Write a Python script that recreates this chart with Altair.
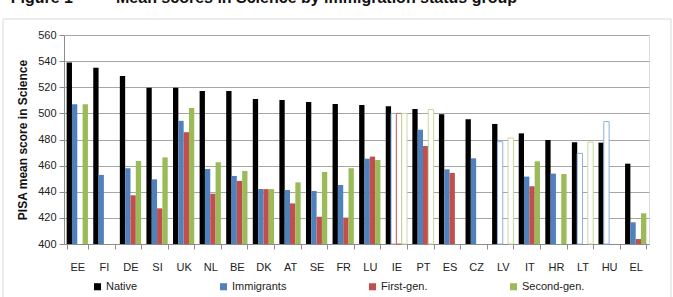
import altair as alt
import pandas as pd

countries = ["EE", "FI", "DE", "SI", "UK", "NL", "BE", "DK", "AT", "SE", "FR",
             "LU", "IE", "PT", "ES", "CZ", "LV", "IT", "HR", "LT", "HU", "EL"]
groups = ["Native", "Immigrants", "First-gen.", "Second-gen."]

native = [539, 535, 528.7, 519.7, 519.7, 517.2, 517.2, 511, 510.3, 508.7, 507.2,
          506.4, 505.4, 503.4, 499.3, 495.5, 491.9, 484.7, 479.6, 477.9, 477.6, 461.5]
immigrants = [507, 452.9, 458, 449.5, 494.3, 457.4, 452.1, 442.1, 441.3, 440.6, 445.2,
              465.3, 500, 487.5, 457.2, 465.6, 478.3, 451.6, 453.9, 469.4, 493.7, 416.6]
first_gen = [None, None, 437.3, 427.3, 485.6, 438.5, 448.3, 442, 431.1, 420.9, 420.2,
             466.9, 500, 475, 454.4, None, None, 444.2, None, None, None, 403.8]
second_gen = [507, None, 463.5, 466.3, 504.2, 462.6, 455.9, 442, 447.2, 455.1, 458,
              464.3, 500, 503, None, None, 481.2, 463.3, 453.6, 478, None, 423.5]

# not significantly different (drawn hollow)
hollow = {
    "Immigrants": ["IE", "LV", "LT", "HU"],
    "First-gen.": ["IE"],
    "Second-gen.": ["IE", "PT", "LV", "LT"],
}

fill_colors = ["#000000", "#4f81bd", "#c0504d", "#9bbb59"]
stroke_colors = ["#000000", "#8eb0dc", "#d0605c", "#c6d9a0"]

rows = []
for g, vals in zip(groups, [native, immigrants, first_gen, second_gen]):
    for c, v in zip(countries, vals):
        if v is None:
            continue
        rows.append({"country": c, "group": g, "score": v,
                     "hollow": c in hollow.get(g, [])})
df = pd.DataFrame(rows)

FONT = "Liberation Sans Narrow, Liberation Sans, sans-serif"

x_enc = alt.X("country:N", sort=countries, title=None,
              scale=alt.Scale(paddingInner=0.2, paddingOuter=0.1),
              axis=alt.Axis(labelAngle=0, tickBand="extent", tickSize=5,
                            labelPadding=12, labelFontSize=11, labelFont=FONT,
                            labelColor="#222222", domainColor="#8c8c8c",
                            tickColor="#8c8c8c", grid=False))
y_enc = alt.Y("score:Q", title="PISA mean score in Science",
              scale=alt.Scale(domain=[400, 560], zero=False, nice=False),
              axis=alt.Axis(values=list(range(400, 561, 20)), tickSize=5,
                            labelPadding=3, labelFontSize=11, labelFont=FONT,
                            labelColor="#222222", domainColor="#8c8c8c",
                            tickColor="#8c8c8c", gridColor="#a6a6a6",
                            titleFont=FONT, titleFontSize=12,
                            titleFontWeight="bold", titleColor="#111111",
                            titlePadding=8))
xoff = alt.XOffset("group:N", sort=groups,
                   scale=alt.Scale(domain=groups))

base = alt.Chart(df)

filled = base.transform_filter("!datum.hollow").mark_bar().encode(
    x=x_enc, y=y_enc, y2=alt.datum(400), xOffset=xoff,
    fill=alt.Fill("group:N", sort=groups,
                  scale=alt.Scale(domain=groups, range=fill_colors),
                  legend=alt.Legend(title=None, orient="none", direction="horizontal",
                                    legendX=28, legendY=246, columnPadding=80,
                                    symbolType="square", symbolSize=50,
                                    symbolStrokeWidth=0, labelFont=FONT,
                                    labelFontSize=11, labelColor="#222222",
                                    labelOffset=3)),
)

empty = base.transform_filter("datum.hollow").mark_bar(fill="white", strokeWidth=1).encode(
    x=x_enc, y=y_enc, y2=alt.datum(400), xOffset=xoff,
    stroke=alt.Stroke("group:N", scale=alt.Scale(domain=groups, range=stroke_colors),
                      legend=None),
)

frame_df = pd.DataFrame([{"k": 0}])
frame = alt.Chart(frame_df).mark_rect(filled=False, stroke="#d9d9d9",
                                      strokeWidth=1, clip=False).encode(
    x=alt.value(-61), x2=alt.value(607), y=alt.value(-16), y2=alt.value(300))

title_df = pd.DataFrame([{"t": "Figure 1"}])
title1 = alt.Chart(title_df).mark_text(align="right", baseline="alphabetic",
                                       font=FONT, fontSize=16, fontWeight="bold",
                                       color="#111111", clip=False).encode(
    text="t:N", x=alt.value(9), y=alt.value(-32.5))
title_df2 = pd.DataFrame([{"t": "Mean scores in Science by immigration status group"}])
title2 = alt.Chart(title_df2).mark_text(align="left", baseline="alphabetic",
                                        font=FONT, fontSize=16, fontWeight="bold",
                                        color="#111111", clip=False).encode(
    text="t:N", x=alt.value(52), y=alt.value(-32.5))

chart = alt.layer(frame, filled, empty, title1, title2).properties(
    width=585, height=209,
    autosize=alt.AutoSizeParams(type="none"),
    padding={"left": 64, "top": 35, "right": 24, "bottom": 53},
).resolve_scale(
    fill="independent", stroke="independent"
).configure_view(stroke=None).configure(background="white")

chart.save("out.html", embed_options={"renderer": "svg", "actions": False})
